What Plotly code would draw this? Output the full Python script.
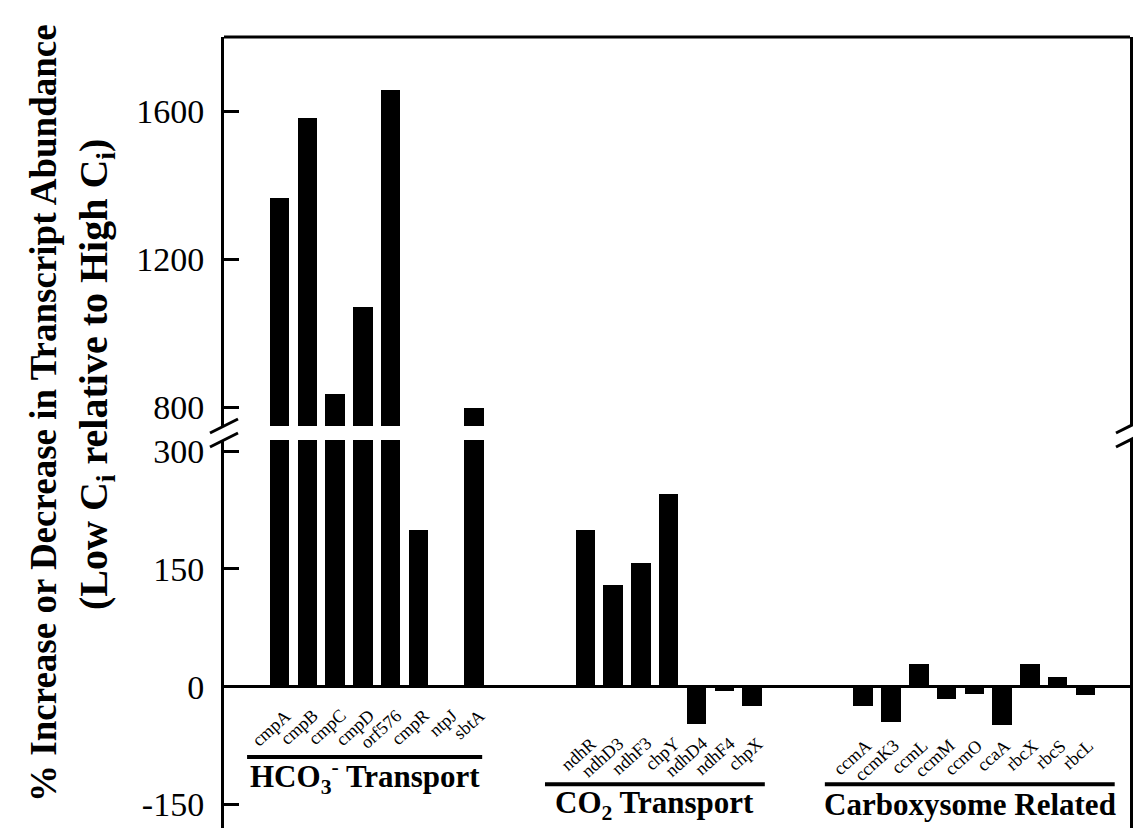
import plotly.graph_objects as go

# ---------------- data ----------------
hco3_genes = ["cmpA", "cmpB", "cmpC", "cmpD", "orf576", "cmpR", "ntpJ", "sbtA"]
hco3_vals = [1366, 1580, 835, 1070, 1658, 200, 0, 797]
co2_genes = ["ndhR", "ndhD3", "ndhF3", "chpY", "ndhD4", "ndhF4", "chpX"]
co2_vals = [200, 130, 158, 245, -47, -5, -25]
carb_genes = ["ccmA", "ccmK3", "ccmL", "ccmM", "ccmO", "ccaA", "rbcX", "rbcS", "rbcL"]
carb_vals = [-25, -45, 29, -15, -9, -49, 29, 12, -10]
group_names = ["HCO<sub>3</sub><sup>-</sup> Transport", "CO<sub>2</sub> Transport", "Carboxysome Related"]
lower_ticks = [-150, 0, 150, 300]
upper_ticks = [800, 1200, 1600]
title_line1 = "% Increase or Decrease in Transcript Abundance"
title_line2 = "(Low C<sub>i</sub> relative to High C<sub>i</sub>)"

# ---------------- layout constants ----------------
FONT = "Liberation Serif, Times New Roman, serif"
W, H = 1133, 828
ML, MR, MT, MB = 224, 3, 37, 0
LOW_TOP = 0.4905
UP_BOT = 0.5082
GAP_SLOTS = 3
group_style = [
    dict(line_y=-89.5, ext_l=1.17, ext_r=0.29, lab_shift=-16, lab_dx=0.63, text_y=-115),
    dict(line_y=-124, ext_l=1.45, ext_r=0.46, lab_shift=-44, lab_dx=0.63, text_y=-150),
    dict(line_y=-124, ext_l=1.38, ext_r=1.05, lab_shift=-46, lab_dx=0.54, text_y=-150),
]

groups = [(hco3_genes, hco3_vals), (co2_genes, co2_vals), (carb_genes, carb_vals)]

xs, vs, names = [], [], []
group_pos = []
start = 0
for genes, vals in groups:
    pos = [start + i for i in range(len(genes))]
    group_pos.append(pos)
    xs += pos
    vs += vals
    names += genes
    start += len(genes) + GAP_SLOTS

fig = go.Figure()
for ax in ["y", "y2"]:
    fig.add_trace(go.Bar(x=xs, y=vs, yaxis=ax, xaxis="x", width=0.7,
                         marker=dict(color="black", line=dict(width=0)),
                         hovertext=names, showlegend=False))

shapes = []
annotations = []
shapes.append(dict(type="line", xref="paper", yref="paper", x0=0, x1=1, y0=1, y1=1,
                   line=dict(color="black", width=3)))
for sx in [0, 1]:
    for sy in [LOW_TOP, UP_BOT]:
        shapes.append(dict(type="line", xref="paper", xsizemode="pixel", xanchor=sx,
                           x0=-14, x1=14, yref="paper", ysizemode="pixel", yanchor=sy,
                           y0=-7, y1=7, line=dict(color="black", width=3)))

for gi, (pos, (genes, vals)) in enumerate(zip(group_pos, groups)):
    st = group_style[gi]
    x0 = pos[0] - st["ext_l"]
    x1 = pos[-1] + st["ext_r"]
    shapes.append(dict(type="line", xref="x", yref="y", x0=x0, x1=x1,
                       y0=st["line_y"], y1=st["line_y"], line=dict(color="black", width=4)))
    annotations.append(dict(x=(x0 + x1) / 2, y=st["text_y"], xref="x", yref="y",
                            text="<b>" + group_names[gi] + "</b>", showarrow=False,
                            font=dict(family=FONT, size=31, color="black"),
                            xanchor="center", yanchor="middle"))
    for p, g in zip(pos, genes):
        annotations.append(dict(x=p + st["lab_dx"], y=0, xref="x", yref="y", text=g,
                                showarrow=False, textangle=-42, xanchor="right", yanchor="top",
                                yshift=st["lab_shift"],
                                font=dict(family=FONT, size=18, color="black")))

annotations.append(dict(x=(43 - ML) / (W - ML - MR), y=(H - 413) / (H - MT - MB),
                        xref="paper", yref="paper", text="<b>" + title_line1 + "</b>",
                        textangle=-90, showarrow=False, xanchor="center", yanchor="middle",
                        font=dict(family=FONT, size=37, color="black")))
annotations.append(dict(x=(96 - ML) / (W - ML - MR), y=(H - 375) / (H - MT - MB),
                        xref="paper", yref="paper", text="<b>" + title_line2 + "</b>",
                        textangle=-90, showarrow=False, xanchor="center", yanchor="middle",
                        font=dict(family=FONT, size=40, color="black")))

yax_common = dict(showline=True, mirror=True, linecolor="black", linewidth=3,
                  ticks="inside", ticklen=15, tickwidth=2.5, tickcolor="black",
                  showgrid=False, ticklabelstandoff=10,
                  tickfont=dict(family=FONT, size=34, color="black"))

fig.update_layout(
    width=W, height=H,
    margin=dict(l=ML, r=MR, t=MT, b=MB, pad=0),
    paper_bgcolor="white", plot_bgcolor="white",
    bargap=0,
    xaxis=dict(range=[-2.0, 30.6], showline=False, showticklabels=False, ticks="",
               showgrid=False, zeroline=False),
    yaxis=dict(domain=[0, LOW_TOP], range=[-179.8, 314], tickvals=lower_ticks,
               ticktext=[str(v) for v in lower_ticks],
               zeroline=True, zerolinecolor="black", zerolinewidth=3, anchor="x",
               **yax_common),
    yaxis2=dict(domain=[UP_BOT, 1], range=[748.6, 1800], tickvals=upper_ticks,
                ticktext=[str(v) for v in upper_ticks],
                zeroline=False, anchor="x", **yax_common),
    shapes=shapes,
    annotations=annotations,
)

fig.write_html("out.html", config={"displayModeBar": False},
               post_script="document.body.style.margin='0px';document.body.style.padding='0px';document.body.style.overflow='hidden';")
